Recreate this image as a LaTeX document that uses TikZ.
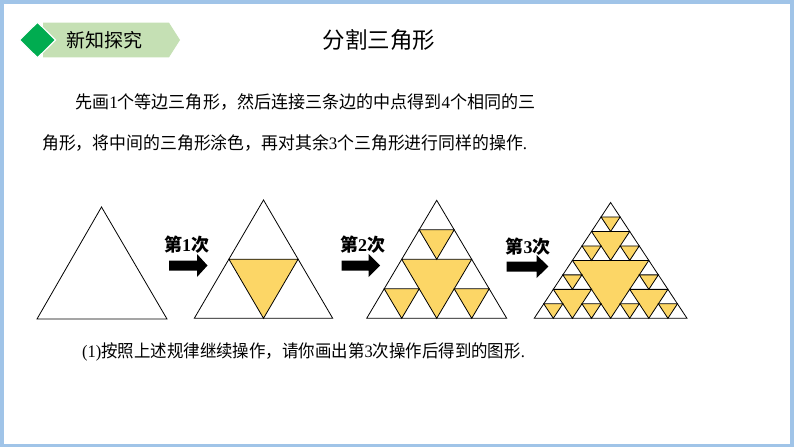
\documentclass[tikz,border=0pt]{standalone}
\usepackage{fontspec}
\setmainfont{Noto Sans CJK SC}
\newfontfamily\tnr{Liberation Serif}
\definecolor{framecol}{RGB}{160,196,232}
\definecolor{bannercol}{RGB}{197,224,180}
\definecolor{diamcol}{RGB}{0,172,80}
\definecolor{fillc}{RGB}{252,214,102}
\tikzset{
  tri/.style={draw=black, line width=0.8pt, line join=miter},
  ftri/.style={fill=fillc, draw=black, line width=0.8pt, line join=miter},
  blockarrow/.style={fill=black},
  txt/.style={inner sep=0pt, font=\fontsize{17.5}{20}\selectfont},
  lbl/.style={inner sep=0pt, font=\fontsize{18}{20}\selectfont\bfseries}
}
\newcommand\invtri[3]{\filldraw[ftri] ({#1+#3/2},{#2}) -- ({#1+#3/2},{#2+#3/2}) -- ({#1},{#2+#3/2}) -- cycle;}
\newcommand\blockarr[4]{% x0, x1, tip, yc
  \fill[blockarrow] (#1,#4-5) -- (#2,#4-5) -- (#2,#4-11.5) -- (#3,#4) -- (#2,#4+11.5) -- (#2,#4+5) -- (#1,#4+5) -- cycle;}
\begin{document}
\begin{tikzpicture}[x=1pt,y=-1pt]
\useasboundingbox (0,0) rectangle (794,447);
% frame
\fill[framecol] (0,0) rectangle (794,447);
\fill[white] (3.5,4) rectangle (789.5,443.5);
% header
\fill[bannercol] (43,22.7) -- (169,22.7) -- (180,40) -- (169,57.3) -- (43,57.3) -- cycle;
\filldraw[fill=diamcol, draw=white, line width=1.2pt] (37.5,22.2) -- (55.5,40) -- (37.5,57.8) -- (19.5,40) -- cycle;
\node[inner sep=0pt, font=\fontsize{19}{20}\selectfont] (hdr) at (104,40) {新知探究};
\node[inner sep=0pt, font=\fontsize{22.5}{24}\selectfont] (title) at (379,39.5) {分割三角形};
% paragraph
\node[txt, anchor=west, xscale=0.974] (l1) at (75,102.5) {先画{\tnr 1}个等边三角形，然后连接三条边的中点得到{\tnr 4}个相同的三};
\node[txt, anchor=west, xscale=0.964] (l2) at (42,143) {角形，将中间的三角形涂色，再对其余{\tnr 3}个三角形进行同样的操作{\tnr .}};
\node[txt, anchor=west, xscale=0.94] (l3) at (82,352) {{\tnr (1)}按照上述规律继续操作，请你画出第{\tnr 3}次操作后得到的图形{\tnr .}};
% triangle 0
\draw[tri] (37,319) -- (167,319) -- (101.5,207) -- cycle;
% triangle 1
\begin{scope}[shift={(194.3,318.3)}, x={(138.4pt,0pt)}, y={(69.2pt,118.3pt)}]
  \invtri{0}{0}{1}
  \draw[tri] (0,0) -- (1,0) -- (0,1) -- cycle;
\end{scope}
% triangle 2
\begin{scope}[shift={(366.7,318.3)}, x={(140pt,0pt)}, y={(70pt,118pt)}]
  \invtri{0}{0}{1}
  \foreach \u/\v in {0/0, 0.5/0, 0/0.5} {\invtri{\u}{\v}{0.5}}
  \draw[tri] (0,0) -- (1,0) -- (0,1) -- cycle;
\end{scope}
% triangle 3
\begin{scope}[shift={(534.2,318.3)}, x={(152.8pt,0pt)}, y={(76.4pt,115.8pt)}]
  \invtri{0}{0}{1}
  \foreach \u/\v in {0/0, 0.5/0, 0/0.5} {\invtri{\u}{\v}{0.5}}
  \foreach \u/\v in {0/0, 0.25/0, 0/0.25, 0.5/0, 0.75/0, 0.5/0.25, 0/0.5, 0.25/0.5, 0/0.75} {\invtri{\u}{\v}{0.25}}
  \draw[tri] (0,0) -- (1,0) -- (0,1) -- cycle;
\end{scope}
% arrows and labels
\blockarr{169}{197}{207.5}{265.5}
\node[lbl] (s1) at (186.5,245) {第{\tnr\bfseries 1}次};
\blockarr{341.7}{368.5}{380}{265.5}
\node[lbl] (s2) at (362.5,244.5) {第{\tnr\bfseries 2}次};
\blockarr{506.7}{536.7}{548.3}{266.5}
\node[lbl] (s3) at (528,247) {第{\tnr\bfseries 3}次};
\end{tikzpicture}
\end{document}
